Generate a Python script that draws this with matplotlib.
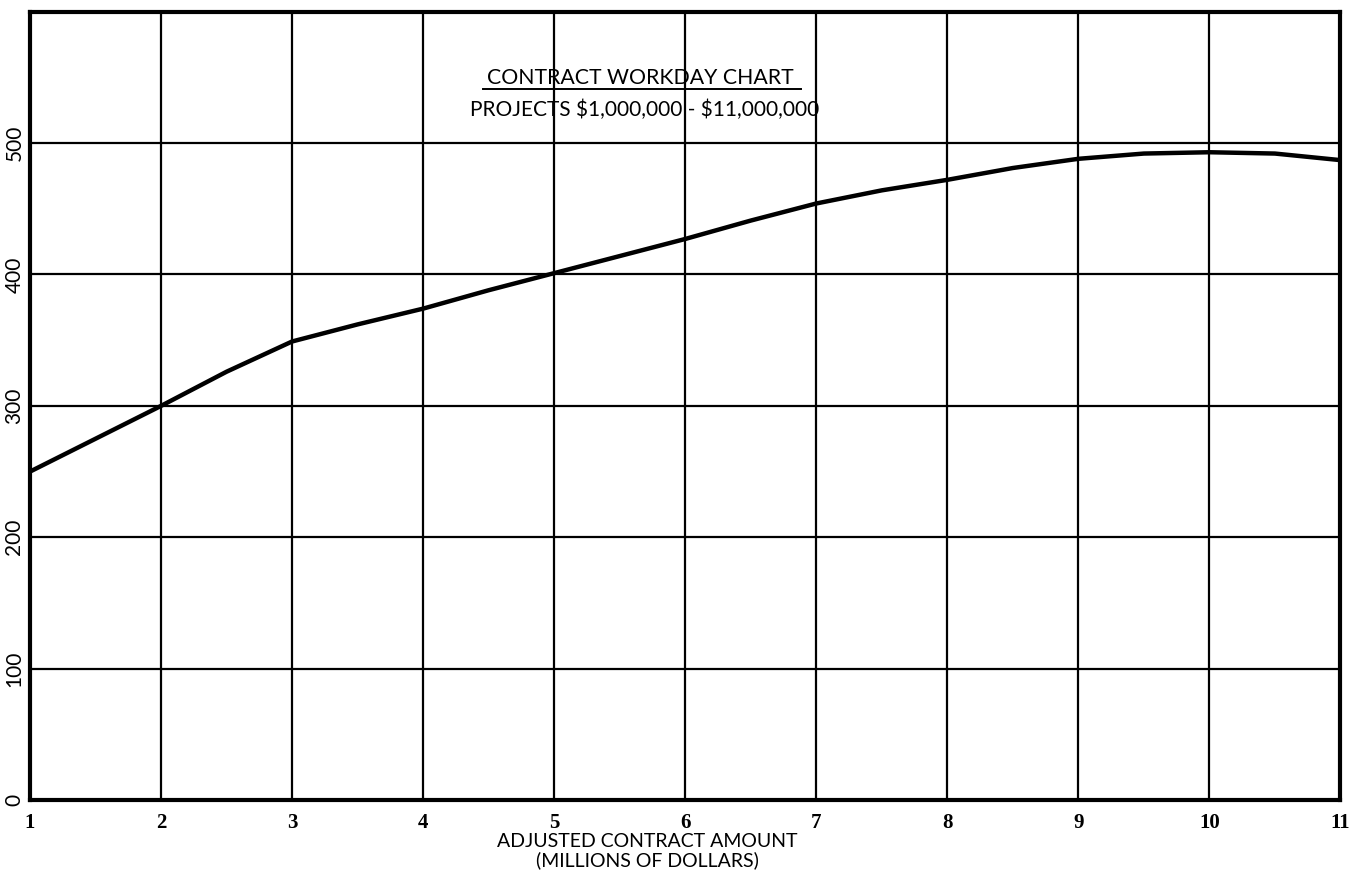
import matplotlib.pyplot as plt

# contract amount (millions) vs workdays
amount = [1, 1.5, 2, 2.5, 3, 3.5, 4, 4.5, 5, 5.5, 6, 6.5, 7, 7.5, 8, 8.5, 9, 9.5, 10, 10.5, 11]
workdays = [250, 275, 300, 326, 349, 362, 374, 388, 401, 414, 427, 441, 454, 464,
            472, 481, 488, 492, 493, 492, 487]
xticks = [1, 2, 3, 4, 5, 6, 7, 8, 9, 10, 11]
yticks = [0, 100, 200, 300, 400, 500]

title = "CONTRACT WORKDAY CHART"
subtitle = r"PROJECTS \$1,000,000 - \$11,000,000"

fig = plt.figure(figsize=(13.65, 8.94), dpi=100)
ax = fig.add_axes([0.022, 0.105, 0.96, 0.882])

ax.plot(amount, workdays, color="black", lw=3.2, solid_capstyle="round",
        solid_joinstyle="round")

ax.set_xlim(1, 11)
ax.set_ylim(0, 600)
ax.set_xticks(xticks)
ax.set_yticks(yticks)
ax.grid(True, color="black", lw=1.6)
ax.set_axisbelow(True)
for s in ax.spines.values():
    s.set_linewidth(3)
ax.tick_params(length=0, pad=9, labelsize=15)
for lab in ax.get_xticklabels():
    lab.set_fontfamily("Liberation Serif")
    lab.set_fontweight("semibold")
ax.set_yticklabels([str(v) for v in yticks], rotation=90, va="center",
                   family="Lato", fontsize=15)
ax.tick_params(axis="y", pad=4)

ax.text(0.466, 0.916, title, transform=ax.transAxes, ha="center", va="center",
        family="Lato", fontsize=15.3)
ax.plot([0.346, 0.588], [0.9015, 0.9015], transform=ax.transAxes, color="black", lw=1.4)
ax.text(0.469, 0.876, subtitle, transform=ax.transAxes, ha="center", va="center",
        family="Lato", fontsize=15)

fig.text(0.474, 0.048, "ADJUSTED CONTRACT AMOUNT\n(MILLIONS OF DOLLARS)", ha="center",
         va="center", family="Lato", fontsize=14, linespacing=1.1)

fig.savefig("out.png", dpi=100)
